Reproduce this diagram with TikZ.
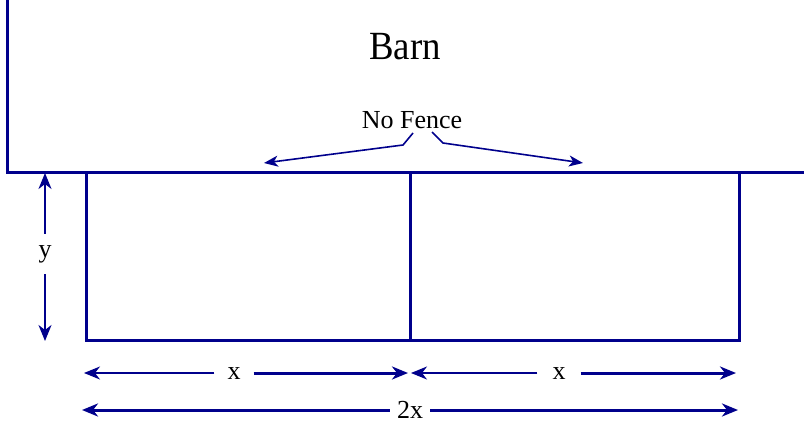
\documentclass[tikz,border=0pt]{standalone}
\usepackage{fontspec}
\setmainfont{Liberation Serif}
\usepackage{tikz}
\usetikzlibrary{arrows.meta, positioning, calc}
\definecolor{fencenavy}{RGB}{0, 0, 140}

\begin{document}
\begin{tikzpicture}[
    x=1pt, y=-1pt,
    wall/.style={draw=fencenavy, line width=3pt},
    thinarrow/.style={draw=fencenavy, line width=1.5pt, -{Stealth[length=16pt, width=13pt, inset=5pt]}},
    thickarrow/.style={draw=fencenavy, line width=3pt, -{Stealth[length=16pt, width=13pt, inset=5pt]}},
    notearrow/.style={draw=fencenavy, line width=1.6pt, -{Stealth[length=14pt, width=11pt, inset=4pt]}},
    lbl/.style={font=\fontsize{26}{28}\selectfont, inner sep=0pt}
]
    \useasboundingbox (0,0) rectangle (804,423);

    % barn wall
    \coordinate (barntop) at (7,0);
    \coordinate (barncorner) at (7,172);
    \coordinate (barnend) at (804,172);
    \draw[wall] (barntop) -- (barncorner) -- (barnend);
    \node[font=\fontsize{40}{42}\selectfont] (barn) at (405,47) {\scalebox{0.92}[1]{Barn}};

    % fence
    \coordinate (postL) at (86,172);
    \coordinate (postM) at (410,172);
    \coordinate (postR) at (739,172);
    \coordinate (footL) at (86,340);
    \coordinate (footM) at (410,340);
    \coordinate (footR) at (739,340);
    \draw[wall] (postL) -- (footL) -- (footR) -- (postR);
    \draw[wall] (postM) -- (footM);

    % no fence
    \node[lbl] (nofence) at (412,120) {No Fence};
    \coordinate (nfL1) at (413,133);
    \coordinate (nfL2) at (403,145);
    \coordinate (nfLtip) at (264,163);
    \coordinate (nfR1) at (432,132);
    \coordinate (nfR2) at (443,143);
    \coordinate (nfRtip) at (583,163);
    \draw[notearrow] (nfL1) -- (nfL2) -- (nfLtip);
    \draw[notearrow] (nfR1) -- (nfR2) -- (nfRtip);

    % y
    \node[lbl, minimum height=40pt] (ylbl) at (45,254) {y};
    \coordinate (ytop) at (45,173);
    \coordinate (ybot) at (45,341);
    \draw[thinarrow, line width=2pt] (ylbl.north) -- (ytop);
    \draw[thinarrow, line width=2pt] (ylbl.south) -- (ybot);

    % x, x
    \node[lbl, inner xsep=13pt] (xleft) at (234,374) {x};
    \node[lbl, inner xsep=15pt] (xright) at (559,374) {x};
    \coordinate (xa) at (84,373);
    \coordinate (xb) at (408,373);
    \coordinate (xc) at (411,373);
    \coordinate (xd) at (736,373);
    \draw[thinarrow] (xleft.west |- xa) -- (xa);
    \draw[thickarrow] (xleft.east |- xb) -- (xb);
    \draw[thinarrow] (xright.west |- xc) -- (xc);
    \draw[thickarrow] (xright.east |- xd) -- (xd);

    % 2x
    \node[lbl, inner xsep=7pt] (twox) at (410,410) {2x};
    \coordinate (wa) at (82,410);
    \coordinate (wb) at (738,410);
    \draw[thickarrow] (twox.west |- wa) -- (wa);
    \draw[thickarrow] (twox.east |- wb) -- (wb);
\end{tikzpicture}
\end{document}
